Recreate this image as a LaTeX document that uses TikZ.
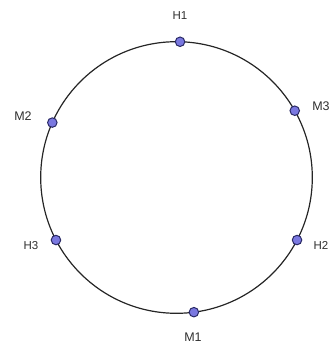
\documentclass[tikz,border=0pt]{standalone}
\usepackage{fontspec}
\setmainfont{Liberation Sans}
\definecolor{ptfill}{HTML}{7A78E0}
\definecolor{ptdraw}{HTML}{2A2A66}
\definecolor{lbl}{HTML}{303030}
\begin{document}
\begin{tikzpicture}[x=1pt,y=-1pt,
  pt/.style={circle,fill=ptfill,draw=ptdraw,line width=1pt,inner sep=0pt,minimum size=9.5pt},
  lab/.style={text=lbl,font=\fontsize{11.5}{11.5}\selectfont,inner sep=0pt},
  labm/.style={text=lbl,font=\fontsize{12.5}{12.5}\selectfont,inner sep=0pt}]
\useasboundingbox (0,0) rectangle (333,345);
\coordinate (c) at (176.5,177.5);
\draw[line width=1.2pt,black!85] (c) circle[radius=135.8];
\path (c) ++(-88.5:135.8) node[pt] (H1) {};
\path (c) ++(-29.46:135.8) node[pt] (M3) {};
\path (c) ++(27.42:135.8) node[pt] (H2) {};
\path (c) ++(82.64:135.8) node[pt] (M1) {};
\path (c) ++(-207.42:135.8) node[pt] (H3) {};
\path (c) ++(-156.14:135.8) node[pt] (M2) {};
\node[lab] (tH1) at (180,16) {H1};
\node[labm] (tM2) at (23,116) {M2};
\node[labm] (tM3) at (321,106) {M3};
\node[lab] (tH3) at (31,246) {H3};
\node[lab] (tH2) at (321,245) {H2};
\node[labm] (tM1) at (193,337) {M1};
\end{tikzpicture}
\end{document}
